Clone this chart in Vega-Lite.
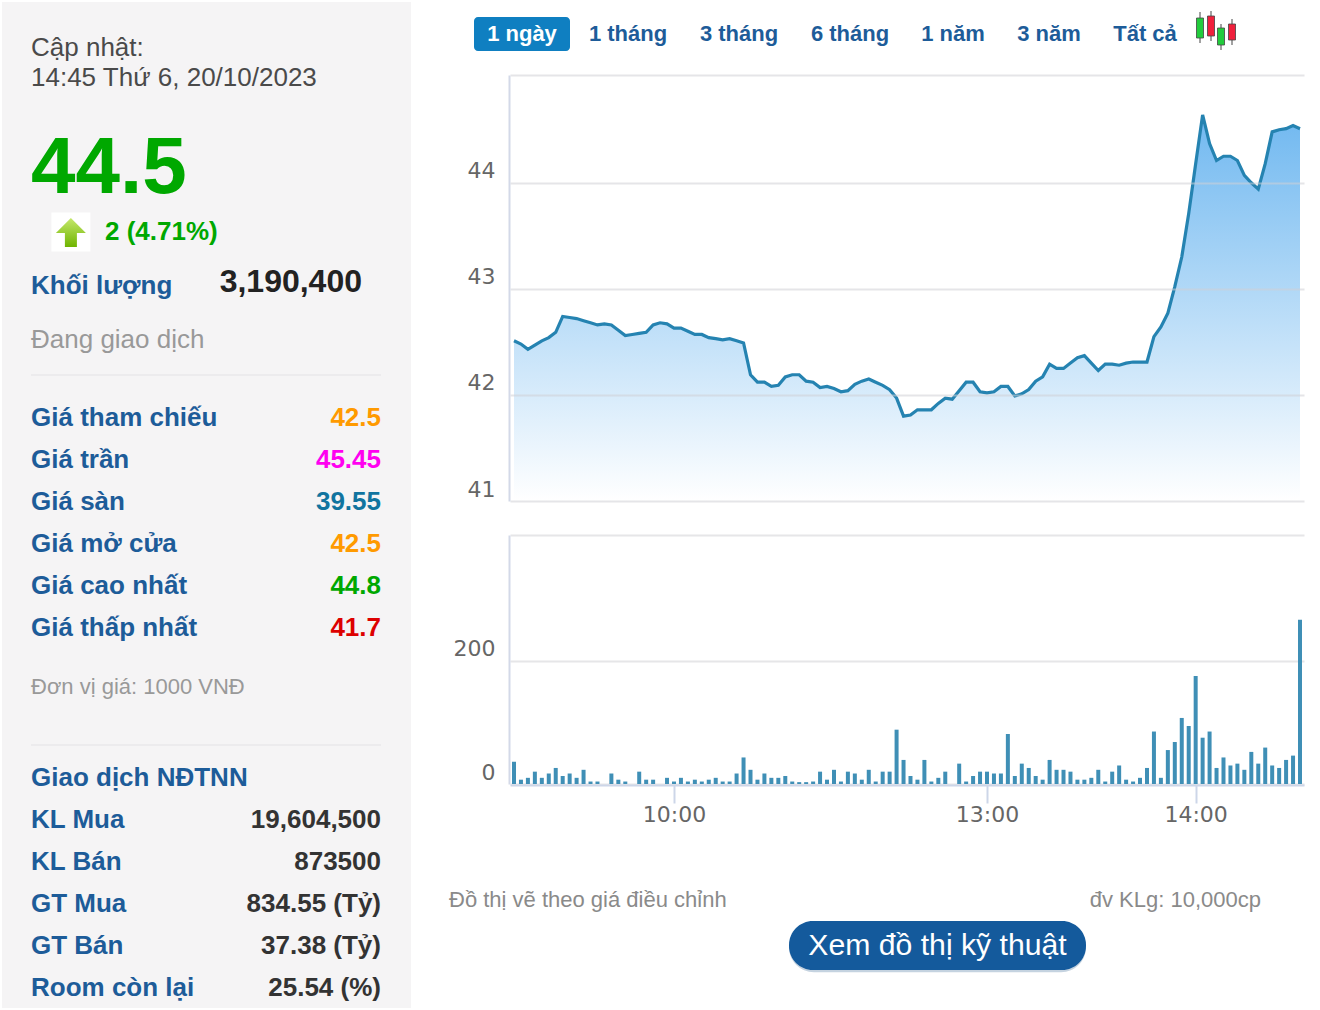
{"$schema":"https://vega.github.io/schema/vega-lite/v6.json","padding":{"left":2,"top":2,"right":0,"bottom":0},"background":"#ffffff","config":{"view":{"stroke":null},"font":"Liberation Sans"},"bounds":"flush","spacing":98,"datasets":{"session":[{"minute":554,"price":42.51,"volume":36},{"minute":556,"price":42.48,"volume":7},{"minute":558,"price":42.43,"volume":10},{"minute":560,"price":42.47,"volume":20},{"minute":562,"price":42.51,"volume":10},{"minute":564,"price":42.54,"volume":17},{"minute":566,"price":42.59,"volume":26},{"minute":568,"price":42.74,"volume":13},{"minute":570,"price":42.73,"volume":17},{"minute":572,"price":42.72,"volume":10},{"minute":574,"price":42.7,"volume":23},{"minute":576,"price":42.68,"volume":4},{"minute":578,"price":42.66,"volume":4},{"minute":580,"price":42.67,"volume":0},{"minute":582,"price":42.66,"volume":17},{"minute":584,"price":42.61,"volume":7},{"minute":586,"price":42.56,"volume":4},{"minute":588,"price":42.57,"volume":0},{"minute":590,"price":42.58,"volume":20},{"minute":592,"price":42.59,"volume":7},{"minute":594,"price":42.66,"volume":7},{"minute":596,"price":42.68,"volume":0},{"minute":598,"price":42.67,"volume":10},{"minute":600,"price":42.63,"volume":4},{"minute":602,"price":42.63,"volume":10},{"minute":604,"price":42.6,"volume":4},{"minute":606,"price":42.57,"volume":7},{"minute":608,"price":42.57,"volume":4},{"minute":610,"price":42.54,"volume":7},{"minute":612,"price":42.53,"volume":10},{"minute":614,"price":42.52,"volume":4},{"minute":616,"price":42.53,"volume":4},{"minute":618,"price":42.51,"volume":17},{"minute":620,"price":42.49,"volume":43},{"minute":622,"price":42.19,"volume":23},{"minute":624,"price":42.12,"volume":7},{"minute":626,"price":42.12,"volume":17},{"minute":628,"price":42.08,"volume":10},{"minute":630,"price":42.09,"volume":10},{"minute":632,"price":42.17,"volume":13},{"minute":634,"price":42.19,"volume":4},{"minute":636,"price":42.19,"volume":3},{"minute":638,"price":42.13,"volume":3},{"minute":640,"price":42.12,"volume":4},{"minute":642,"price":42.07,"volume":20},{"minute":644,"price":42.08,"volume":7},{"minute":646,"price":42.06,"volume":23},{"minute":648,"price":42.03,"volume":4},{"minute":650,"price":42.04,"volume":20},{"minute":652,"price":42.1,"volume":17},{"minute":654,"price":42.13,"volume":7},{"minute":656,"price":42.15,"volume":23},{"minute":658,"price":42.12,"volume":4},{"minute":660,"price":42.09,"volume":20},{"minute":662,"price":42.05,"volume":20},{"minute":664,"price":41.97,"volume":88},{"minute":666,"price":41.8,"volume":39},{"minute":668,"price":41.81,"volume":13},{"minute":670,"price":41.86,"volume":7},{"minute":672,"price":41.86,"volume":39},{"minute":674,"price":41.86,"volume":4},{"minute":676,"price":41.92,"volume":10},{"minute":678,"price":41.97,"volume":20},{"minute":680,"price":41.96,"volume":0},{"minute":682,"price":42.04,"volume":33},{"minute":684,"price":42.12,"volume":4},{"minute":686,"price":42.12,"volume":13},{"minute":688,"price":42.03,"volume":20},{"minute":780,"price":42.02,"volume":20},{"minute":782,"price":42.03,"volume":17},{"minute":784,"price":42.08,"volume":17},{"minute":786,"price":42.08,"volume":81},{"minute":788,"price":41.99,"volume":13},{"minute":790,"price":42.01,"volume":33},{"minute":792,"price":42.05,"volume":26},{"minute":794,"price":42.13,"volume":13},{"minute":796,"price":42.17,"volume":7},{"minute":798,"price":42.29,"volume":39},{"minute":800,"price":42.25,"volume":23},{"minute":802,"price":42.25,"volume":23},{"minute":804,"price":42.3,"volume":20},{"minute":806,"price":42.35,"volume":7},{"minute":808,"price":42.37,"volume":7},{"minute":810,"price":42.3,"volume":10},{"minute":812,"price":42.23,"volume":23},{"minute":814,"price":42.29,"volume":4},{"minute":816,"price":42.29,"volume":20},{"minute":818,"price":42.28,"volume":30},{"minute":820,"price":42.3,"volume":7},{"minute":822,"price":42.31,"volume":4},{"minute":824,"price":42.31,"volume":10},{"minute":826,"price":42.31,"volume":26},{"minute":828,"price":42.55,"volume":85},{"minute":830,"price":42.64,"volume":10},{"minute":832,"price":42.77,"volume":55},{"minute":834,"price":43.02,"volume":68},{"minute":836,"price":43.3,"volume":107},{"minute":838,"price":43.71,"volume":94},{"minute":840,"price":44.18,"volume":175},{"minute":842,"price":44.64,"volume":75},{"minute":844,"price":44.37,"volume":85},{"minute":846,"price":44.21,"volume":26},{"minute":848,"price":44.25,"volume":43},{"minute":850,"price":44.25,"volume":30},{"minute":852,"price":44.21,"volume":33},{"minute":854,"price":44.07,"volume":23},{"minute":856,"price":44.0,"volume":52},{"minute":858,"price":43.94,"volume":33},{"minute":860,"price":44.18,"volume":59},{"minute":862,"price":44.48,"volume":30},{"minute":864,"price":44.5,"volume":26},{"minute":866,"price":44.51,"volume":39},{"minute":868,"price":44.54,"volume":46},{"minute":870,"price":44.51,"volume":266}],"panel":[{"row":1,"label":"Cập nhật:"},{"row":2,"label":"14:45 Thứ 6, 20/10/2023"},{"row":3,"label":"44.5"},{"row":4,"label":"2 (4.71%)"},{"row":5,"label":"Khối lượng","value":"3,190,400"},{"row":6,"label":"Đang giao dịch"},{"row":7,"label":"Giá tham chiếu","value":"42.5"},{"row":8,"label":"Giá trần","value":"45.45"},{"row":9,"label":"Giá sàn","value":"39.55"},{"row":10,"label":"Giá mở cửa","value":"42.5"},{"row":11,"label":"Giá cao nhất","value":"44.8"},{"row":12,"label":"Giá thấp nhất","value":"41.7"},{"row":13,"label":"Đơn vị giá: 1000 VNĐ"},{"row":14,"label":"Giao dịch NĐTNN"},{"row":15,"label":"KL Mua","value":"19,604,500"},{"row":16,"label":"KL Bán","value":"873500"},{"row":17,"label":"GT Mua","value":"834.55 (Tỷ)"},{"row":18,"label":"GT Bán","value":"37.38 (Tỷ)"},{"row":19,"label":"Room còn lại","value":"25.54 (%)"}],"tabs":[{"tab":1,"label":"1 ngày"},{"tab":2,"label":"1 tháng"},{"tab":3,"label":"3 tháng"},{"tab":4,"label":"6 tháng"},{"tab":5,"label":"1 năm"},{"tab":6,"label":"3 năm"},{"tab":7,"label":"Tất cả"}],"candles":[{"tab":8,"low":7,"high":38,"open":12,"close":32,"dir":"up"},{"tab":9,"low":9,"high":39,"open":34,"close":14,"dir":"down"},{"tab":10,"low":0,"high":26,"open":5,"close":22,"dir":"up"},{"tab":11,"low":5,"high":31,"open":26,"close":10,"dir":"down"}]},"hconcat":[{"width":409,"height":1006,"view":{"fill":"#f5f4f5"},"data":{"name":"panel"},"layer":[{"data":{"values":[{"row":6.5},{"row":13.5}]},"mark":{"type":"rule","color":"#e9e8ea","strokeWidth":1.5},"encoding":{"y":{"field":"row","type":"quantitative","axis":null,"scale":{"nice":false,"zero":false,"domain":[1,2,3,4,5,6,6.5,7,12,13,13.5,14,15,19],"range":[46,76,167,230,284,338,373,416,626,685,743,776,818,986]}},"x":{"datum":0,"type":"quantitative","axis":null,"scale":{"nice":false,"zero":false,"domain":[0,1],"range":[29,379]}},"x2":{"datum":1}}},{"transform":[{"filter":{"field":"row","oneOf":[1,2]}}],"mark":{"type":"text","align":"left","baseline":"middle","fontSize":26,"color":"#4a4a4a"},"encoding":{"y":{"field":"row","type":"quantitative"},"x":{"datum":0,"type":"quantitative"},"text":{"field":"label"}}},{"transform":[{"filter":"datum.row==3"}],"mark":{"type":"text","align":"left","baseline":"middle","fontSize":80,"fontWeight":"bold","color":"#00a800"},"encoding":{"y":{"field":"row","type":"quantitative"},"x":{"datum":0,"type":"quantitative"},"text":{"field":"label"}}},{"transform":[{"filter":"datum.row==4"}],"mark":{"type":"point","shape":"square","filled":true,"size":1521,"color":"#ffffff","opacity":1},"encoding":{"y":{"field":"row","type":"quantitative"},"x":{"datum":0.114,"type":"quantitative"}}},{"transform":[{"filter":"datum.row==4"}],"mark":{"type":"point","shape":"M0,-0.75 L0.8,0.05 L0.32,0.05 L0.32,0.8 L-0.32,0.8 L-0.32,0.05 L-0.8,0.05 Z","filled":true,"size":1406,"opacity":1,"color":{"gradient":"linear","x1":0,"y1":0,"x2":0,"y2":1,"stops":[{"offset":0,"color":"#c5e86c"},{"offset":1,"color":"#6fb400"}]}},"encoding":{"y":{"field":"row","type":"quantitative"},"x":{"datum":0.114,"type":"quantitative"}}},{"transform":[{"filter":"datum.row==4"}],"mark":{"type":"text","align":"left","baseline":"middle","fontSize":26,"fontWeight":"bold","color":"#00a800","dx":74},"encoding":{"y":{"field":"row","type":"quantitative"},"x":{"datum":0,"type":"quantitative"},"text":{"field":"label"}}},{"transform":[{"filter":{"field":"row","oneOf":[5,7,8,9,10,11,12,14,15,16,17,18,19]}}],"mark":{"type":"text","align":"left","baseline":"middle","fontSize":26,"fontWeight":"bold","color":"#1d5c99"},"encoding":{"y":{"field":"row","type":"quantitative"},"x":{"datum":0,"type":"quantitative"},"text":{"field":"label"}}},{"transform":[{"filter":{"field":"row","oneOf":[7,8,9,10,11,12,15,16,17,18,19]}}],"mark":{"type":"text","align":"right","baseline":"middle","fontSize":26,"fontWeight":"bold"},"encoding":{"y":{"field":"row","type":"quantitative"},"x":{"datum":1,"type":"quantitative"},"text":{"field":"value"},"color":{"field":"label","type":"nominal","legend":null,"scale":{"domain":["Giá tham chiếu","Giá trần","Giá sàn","Giá mở cửa","Giá cao nhất","Giá thấp nhất","KL Mua","KL Bán","GT Mua","GT Bán","Room còn lại"],"range":["#ff9a00","#ff00f0","#11749f","#ff9a00","#00a800","#dd0000","#333333","#333333","#333333","#333333","#333333"]}}}},{"transform":[{"filter":"datum.row==5"}],"mark":{"type":"text","align":"right","baseline":"middle","fontSize":32,"fontWeight":"bold","color":"#222222","dx":-19,"dy":-4},"encoding":{"y":{"field":"row","type":"quantitative"},"x":{"datum":1,"type":"quantitative"},"text":{"field":"value"}}},{"transform":[{"filter":"datum.row==6"}],"mark":{"type":"text","align":"left","baseline":"middle","fontSize":26,"color":"#999999"},"encoding":{"y":{"field":"row","type":"quantitative"},"x":{"datum":0,"type":"quantitative"},"text":{"field":"label"}}},{"transform":[{"filter":"datum.row==13"}],"mark":{"type":"text","align":"left","baseline":"middle","fontSize":22,"color":"#999999"},"encoding":{"y":{"field":"row","type":"quantitative"},"x":{"datum":0,"type":"quantitative"},"text":{"field":"label"}}}]},{"vconcat":[{"width":795,"height":39,"layer":[{"data":{"name":"tabs"},"transform":[{"filter":"datum.tab==1"}],"mark":{"type":"rect","width":96,"height":34,"cornerRadius":4,"color":"#0f7fc1"},"encoding":{"x":{"field":"tab","type":"quantitative","axis":null,"scale":{"padding":0,"nice":false,"zero":false,"domain":[1,2,3,4,5,6,7,8,9,10,11],"range":[13,119,230,341,444,540,636,691,702,712,723]}},"y":{"datum":16,"type":"quantitative","axis":null,"scale":{"padding":0,"nice":false,"zero":false,"domain":[0,50],"range":[48,-2]}}}},{"data":{"name":"tabs"},"mark":{"type":"text","align":"center","baseline":"middle","fontSize":22,"fontWeight":"bold"},"encoding":{"x":{"field":"tab","type":"quantitative"},"y":{"datum":16,"type":"quantitative"},"text":{"field":"label"},"color":{"field":"label","type":"nominal","legend":null,"scale":{"domain":["1 ngày","1 tháng","3 tháng","6 tháng","1 năm","3 năm","Tất cả"],"range":["#ffffff","#1d5c99","#1d5c99","#1d5c99","#1d5c99","#1d5c99","#1d5c99"]}}}},{"data":{"name":"candles"},"mark":{"type":"rule","color":"#444444","strokeWidth":1},"encoding":{"x":{"field":"tab","type":"quantitative"},"y":{"field":"low","type":"quantitative"},"y2":{"field":"high"}}},{"data":{"name":"candles"},"mark":{"type":"bar","width":7,"stroke":"#444444","strokeWidth":0.8},"encoding":{"x":{"field":"tab","type":"quantitative"},"y":{"field":"open","type":"quantitative"},"y2":{"field":"close"},"fill":{"field":"dir","type":"nominal","legend":null,"scale":{"domain":["up","down"],"range":["#22cc3c","#f0203c"]}}}}],"resolve":{"scale":{"color":"independent"}}},{"width":795,"height":426,"data":{"name":"session"},"layer":[{"mark":{"type":"area","line":false,"color":{"gradient":"linear","x1":0,"y1":0,"x2":0,"y2":1,"stops":[{"offset":0,"color":"#70b8f0"},{"offset":1,"color":"#ffffff"}]}},"encoding":{"x":{"field":"minute","type":"quantitative","axis":null,"scale":{"nice":false,"zero":false,"domain":[552.85,688,780,871.15],"range":[1,471.05,478,795]}},"y":{"field":"price","type":"quantitative","scale":{"domain":[41,45.016],"range":[426,0],"zero":false,"nice":false},"axis":{"title":null,"values":[41,42,43,44,45.016],"labelExpr":"datum.value>44.5?'':format(datum.value,'d')","zindex":1,"grid":true,"gridColor":"#cfcfd6","gridOpacity":0.55,"gridWidth":2,"domain":true,"domainColor":"#d3d9e8","domainWidth":2,"ticks":false,"labelPadding":14,"labelOffset":-12,"labelFont":"DejaVu Sans","labelFontSize":22,"labelColor":"#666666"}},"y2":{"datum":41}}},{"mark":{"type":"line","color":"#2583b1","strokeWidth":3.2},"encoding":{"x":{"field":"minute","type":"quantitative"},"y":{"field":"price","type":"quantitative"}}}]},{"width":795,"height":250,"data":{"name":"session"},"mark":{"type":"bar","width":4,"color":"#3f8fb6"},"encoding":{"x":{"field":"minute","type":"quantitative","scale":{"padding":0,"nice":false,"zero":false,"domain":[552.85,688,780,871.15],"range":[1,471.05,478,795]},"axis":{"title":null,"values":[600,780,840],"labelExpr":"floor(datum.value/60)+':00'","grid":false,"domain":true,"domainColor":"#cdd6e8","domainWidth":2,"ticks":true,"tickColor":"#cdd6e8","tickWidth":2,"tickSize":18,"labelPadding":1,"labelFont":"DejaVu Sans","labelFontSize":22,"labelColor":"#666666","labelOverlap":false,"labelFlush":false}},"y":{"field":"volume","type":"quantitative","scale":{"domain":[0,403.4],"range":[249,0],"nice":false},"axis":{"title":null,"values":[0,200,403.4],"labelExpr":"datum.value>300?'':format(datum.value,'d')","grid":true,"gridColor":"#e6e6e8","gridWidth":2,"domain":true,"domainColor":"#d3d9e8","domainWidth":2,"ticks":false,"labelPadding":14,"labelOffset":-12,"labelFont":"DejaVu Sans","labelFontSize":22,"labelColor":"#666666"}}}},{"width":795,"height":189,"data":{"values":[{"row":1,"left":"Đồ thị vẽ theo giá điều chỉnh","right":"đv KLg: 10,000cp"},{"row":2,"button":"Xem đồ thị kỹ thuật"}]},"layer":[{"transform":[{"filter":"datum.row==1"}],"mark":{"type":"text","align":"left","baseline":"middle","fontSize":22,"color":"#8a8a8a"},"encoding":{"x":{"datum":0,"type":"quantitative","axis":null,"scale":{"nice":false,"zero":false,"domain":[0,1],"range":[-60,752]}},"y":{"field":"row","type":"quantitative","axis":null,"scale":{"nice":false,"zero":false,"domain":[1,2],"range":[81,126.5]}},"text":{"field":"left"}}},{"transform":[{"filter":"datum.row==1"}],"mark":{"type":"text","align":"right","baseline":"middle","fontSize":22,"color":"#8a8a8a"},"encoding":{"x":{"datum":1,"type":"quantitative"},"y":{"field":"row","type":"quantitative"},"text":{"field":"right"}}},{"transform":[{"filter":"datum.row==2"}],"mark":{"type":"rect","width":297,"height":50,"cornerRadius":25,"color":"#9fb6cc","opacity":0.6},"encoding":{"x":{"datum":0.6016,"type":"quantitative"},"y":{"datum":2.04,"type":"quantitative"}}},{"transform":[{"filter":"datum.row==2"}],"mark":{"type":"rect","width":297,"height":49,"cornerRadius":24,"color":"#145a9c"},"encoding":{"x":{"datum":0.6016,"type":"quantitative"},"y":{"field":"row","type":"quantitative"}}},{"transform":[{"filter":"datum.row==2"}],"mark":{"type":"text","align":"center","baseline":"middle","fontSize":30.2,"color":"#ffffff"},"encoding":{"x":{"datum":0.6016,"type":"quantitative"},"y":{"field":"row","type":"quantitative"},"text":{"field":"button"}}}]}],"spacing":34,"bounds":"flush"}]}
